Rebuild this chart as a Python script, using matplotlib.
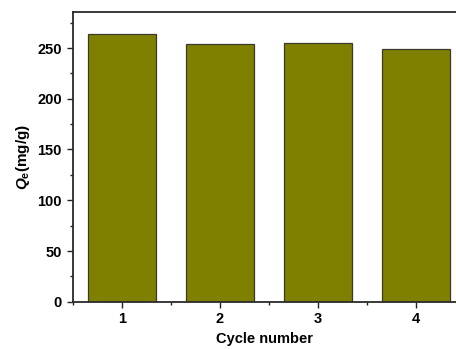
import matplotlib.pyplot as plt
from matplotlib.ticker import MultipleLocator

plt.rcParams['font.family'] = ['Liberation Sans', 'DejaVu Sans']
plt.rcParams['font.weight'] = 'bold'
plt.rcParams['mathtext.fontset'] = 'custom'
plt.rcParams['mathtext.it'] = 'Liberation Sans:italic:bold'
plt.rcParams['mathtext.rm'] = 'Liberation Sans:bold'

cycles = [1, 2, 3, 4]
qe = [264.2, 254.0, 255.3, 249.4]
tick_labels = ['1', '2', '3', '4']

W, H = 456, 349
fig = plt.figure(figsize=(W / 100 + 0.001, H / 100 + 0.001), dpi=100)
# the original is cropped on the right, so the plot stops short of x=4.5
left, right, top, bottom = 73, 456, 12.5, 301.7
ax = fig.add_axes([left / W, 1 - bottom / H, (right - left) / W, (bottom - top) / H])

ax.bar(cycles, qe, width=0.7, color='#808000', edgecolor='#3a3a2a', linewidth=0.9)

ax.set_xlim(0.5, 0.5 + (right - left) / 98.0)
ax.set_ylim(0, 285)
ax.set_xticks(cycles)
ax.set_xticklabels(tick_labels)
ax.xaxis.set_minor_locator(MultipleLocator(0.5))
ax.yaxis.set_major_locator(MultipleLocator(50))
ax.yaxis.set_minor_locator(MultipleLocator(25))
ax.tick_params(which='both', direction='out', width=1.0, labelsize=10.5, color='#222222')
ax.tick_params(which='major', length=4.5)
ax.tick_params(which='minor', length=2.5)
ax.tick_params(axis='x', pad=3)
ax.spines['right'].set_visible(False)
for name in ['left', 'bottom', 'top']:
    ax.spines[name].set_linewidth(1.3)
    ax.spines[name].set_color('#2a2a2a')

ax.set_xlabel('Cycle number', fontsize=10.5, fontweight='bold', labelpad=4)
ax.set_ylabel(r'$Q_\mathrm{e}$(mg/g)', fontsize=11, fontweight='bold', labelpad=4)

fig.savefig('out.png', dpi=100)
